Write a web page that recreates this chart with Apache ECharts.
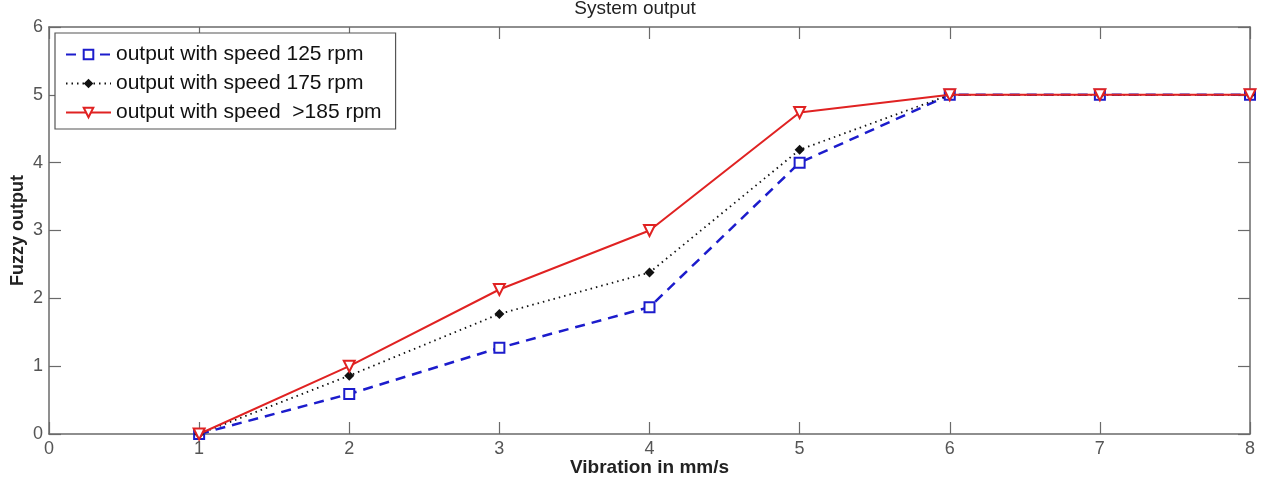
<!DOCTYPE html>
<html>
<head>
<meta charset="utf-8">
<script src="https://cdn.jsdelivr.net/npm/echarts@6/dist/echarts.min.js"></script>
<style>html,body{margin:0;padding:0;background:#fff}#c{width:1270px;height:487px}</style>
</head>
<body>
<div id="c"></div>
<script>
const vibration = [1, 2, 3, 4, 5, 6, 7, 8];
const speed125 = [0, 0.59, 1.27, 1.87, 4.0, 5, 5, 5];
const speed175 = [0, 0.86, 1.77, 2.38, 4.19, 5, 5, 5];
const speed185 = [0, 1.0, 2.13, 3.0, 4.74, 5, 5, 5];
const xTicks = [0, 1, 2, 3, 4, 5, 6, 7, 8];
const yTicks = [0, 1, 2, 3, 4, 5, 6];
const seriesNames = ['output with speed 125 rpm', 'output with speed 175 rpm', 'output with speed  >185 rpm'];

const pair = (ys) => vibration.map((x, i) => [x, ys[i]]);
const font = '"Liberation Sans", Arial, sans-serif';
const axisColor = '#6a6a6a';

const baseAxis = {
  axisLine: { show: true, onZero: false, lineStyle: { color: axisColor, width: 1.5 } },
  axisTick: { show: true, inside: true, length: 12, lineStyle: { color: axisColor, width: 1.2 } },
  splitLine: { show: false }
};

const chart = echarts.init(document.getElementById('c'));
chart.setOption({
  animation: false,
  backgroundColor: '#fff',
  title: {
    text: 'System output', left: 'center', top: -6,
    textStyle: { fontFamily: font, fontSize: 19, fontWeight: 'normal', color: '#222' }
  },
  grid: { left: 49, right: 20, top: 27, bottom: 53 },
  legend: {
    orient: 'vertical', left: 55, top: 33,
    data: seriesNames,
    backgroundColor: '#fff',
    borderColor: '#555', borderWidth: 1.2,
    padding: [11, 14, 6, 10],
    itemGap: 8, itemWidth: 45, itemHeight: 12,
    textStyle: { fontFamily: font, fontSize: 21, color: '#111' }
  },
  xAxis: [
    Object.assign({}, baseAxis, {
      type: 'value', min: 0, max: 8, interval: 1, position: 'bottom',
      name: 'Vibration in mm/s', nameLocation: 'middle', nameGap: 24, nameMoveOverlap: false,
      nameTextStyle: { fontFamily: font, fontSize: 19, fontWeight: 'bold', color: '#222' },
      axisLabel: { color: '#555', fontFamily: font, fontSize: 18, margin: 6,
        formatter: (v) => xTicks.includes(v) ? String(v) : '' }
    }),
    Object.assign({}, baseAxis, {
      type: 'value', min: 0, max: 8, interval: 1, position: 'top', axisLabel: { show: false }
    })
  ],
  yAxis: [
    Object.assign({}, baseAxis, {
      type: 'value', min: 0, max: 6, interval: 1, position: 'left',
      name: 'Fuzzy output', nameLocation: 'middle', nameGap: 22, nameMoveOverlap: false,
      nameTextStyle: { fontFamily: font, fontSize: 18, fontWeight: 'bold', color: '#222' },
      axisLabel: { color: '#555', fontFamily: font, fontSize: 18, margin: 6,
        formatter: (v) => yTicks.includes(v) ? String(v) : '' }
    }),
    Object.assign({}, baseAxis, {
      type: 'value', min: 0, max: 6, interval: 1, position: 'right', axisLabel: { show: false }
    })
  ],
  series: [
    {
      name: seriesNames[0], type: 'line', data: pair(speed125),
      symbol: 'emptyRect', symbolSize: 10,
      lineStyle: { color: '#1c1ccc', width: 2.5, type: [10, 7] },
      itemStyle: { color: '#1c1ccc', borderWidth: 1.5 },
      z: 3
    },
    {
      name: seriesNames[1], type: 'line', data: pair(speed175),
      symbol: 'diamond', symbolSize: 10,
      lineStyle: { color: '#111', width: 1.8, type: [1.5, 4] },
      itemStyle: { color: '#111' },
      z: 4
    },
    {
      name: seriesNames[2], type: 'line', data: pair(speed185),
      symbol: 'emptyTriangle', symbolSize: 11, symbolRotate: 180,
      lineStyle: { color: '#e02222', width: 2 },
      itemStyle: { color: '#e02222', borderWidth: 1.5 },
      z: 5
    }
  ]
});
</script>
</body>
</html>
